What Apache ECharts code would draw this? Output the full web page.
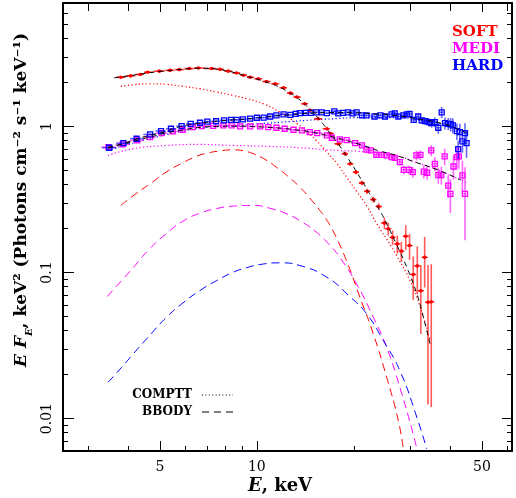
<!DOCTYPE html>
<html>
<head>
<meta charset="utf-8">
<script src="https://cdn.jsdelivr.net/npm/echarts@6/dist/echarts.min.js"></script>
<style>
html, body { margin: 0; padding: 0; background: #fff; }
#chart { width: 516px; height: 498px; }
</style>
</head>
<body>
<div id="chart"></div>
<script>
// ---- axis ticks ----
const xMajor = [5, 10, 50];
const xMinor = [3, 4, 6, 7, 8, 9, 20, 30, 40, 60];
const yMajor = [0.01, 0.1, 1];
const yMinor = [0.006, 0.007, 0.008, 0.009, 0.02, 0.03, 0.04, 0.05, 0.06, 0.07, 0.08, 0.09,
                0.2, 0.3, 0.4, 0.5, 0.6, 0.7, 0.8, 0.9, 2, 3, 4, 5, 6, 7];

// ---- SOFT state spectrum (E keV, E*F_E, error) ----
const softE = [3.78, 4.05, 4.34, 4.58, 4.98, 5.37, 5.74, 6.17, 6.58, 7.24, 7.68, 8.15, 8.65, 9.1, 9.53,
  10.1, 10.7, 11.4, 12.1, 12.7, 13.3, 14.1, 14.6, 15.5, 16.5, 16.9, 17.9, 18.8, 19.5, 20.3, 21.2, 22.0,
  23.0, 23.9, 24.9, 25.6, 26.4, 27.3, 28.1, 29.0, 29.8, 30.6, 31.5, 32.3, 33.2, 34.0, 34.8];
const softV = [2.17, 2.22, 2.27, 2.35, 2.39, 2.42, 2.45, 2.49, 2.51, 2.49, 2.46, 2.39, 2.32, 2.24, 2.17,
  2.12, 2.03, 1.96, 1.84, 1.69, 1.59, 1.43, 1.29, 1.13, 0.964, 0.895, 0.761, 0.650, 0.555, 0.486, 0.41, 0.36,
  0.316, 0.283, 0.218, 0.199, 0.174, 0.157, 0.140, 0.177, 0.153, 0.097, 0.111, 0.075, 0.127, 0.0625, 0.063];
const softErr = [0.03, 0.03, 0.03, 0.03, 0.03, 0.03, 0.03, 0.03, 0.03, 0.03, 0.03, 0.03, 0.03, 0.03, 0.03,
  0.03, 0.03, 0.03, 0.03, 0.03, 0.03, 0.03, 0.03, 0.02, 0.02, 0.02, 0.02, 0.02, 0.015, 0.015, 0.015, 0.015,
  0.015, 0.015, 0.02, 0.02, 0.02, 0.022, 0.022, 0.034, 0.031, 0.032, 0.04, 0.037, 0.048, 0.05, 0.051];

// ---- MEDI state spectrum ----
const mediE = [3.46, 3.83, 4.25, 4.66, 5.06, 5.48, 5.88, 6.32, 6.75, 7.32, 7.87, 8.35, 8.87, 9.53, 10.24,
  10.85, 11.5, 12.2, 13.0, 13.8, 14.6, 15.4, 16.5, 17.1, 18.1, 19.0, 20.2, 21.2, 21.9, 22.6, 23.5, 24.4,
  25.3, 26.2, 26.8, 27.8, 28.6, 29.7, 30.5, 31.3, 32.2, 33.0, 33.8, 34.8, 35.7, 36.6, 37.4, 38.3, 39.3,
  39.9, 40.8, 41.8, 42.4, 43.5, 44.3];
const mediV = [0.721, 0.753, 0.802, 0.845, 0.90, 0.924, 0.949, 0.99, 1.005, 1.01, 1.016, 1.016, 1.0, 1.0, 1.0,
  0.989, 0.98, 0.964, 0.949, 0.939, 0.914, 0.90, 0.868, 0.837, 0.815, 0.805, 0.769, 0.741, 0.693, 0.685, 0.64, 0.638,
  0.633, 0.616, 0.61, 0.57, 0.505, 0.505, 0.486, 0.633, 0.638, 0.49, 0.482, 0.685, 0.555, 0.465, 0.465, 0.623, 0.394,
  0.346, 0.532, 0.616, 0.623, 0.462, 0.346];
const mediErr = [0.012, 0.012, 0.012, 0.012, 0.012, 0.012, 0.012, 0.012, 0.012, 0.012, 0.012, 0.012, 0.012, 0.012, 0.012,
  0.012, 0.012, 0.012, 0.013, 0.013, 0.013, 0.014, 0.015, 0.015, 0.016, 0.016, 0.017, 0.018, 0.02, 0.02, 0.02, 0.022,
  0.022, 0.024, 0.025, 0.03, 0.035, 0.035, 0.04, 0.05, 0.05, 0.05, 0.05, 0.06, 0.06, 0.06, 0.065, 0.08, 0.07,
  0.09, 0.1, 0.11, 0.11, 0.12, 0.18];

// ---- HARD state spectrum ----
const hardE = [3.48, 3.85, 4.23, 4.66, 5.04, 5.41, 5.84, 6.23, 6.66, 7.02, 7.47, 7.91, 8.31, 8.65, 9.05, 9.53,
  10.0, 10.5, 11.0, 11.5, 12.1, 12.7, 13.2, 13.6, 14.2, 14.7, 15.3, 15.9, 16.5, 17.4, 17.9, 18.5, 19.2, 19.8,
  20.4, 21.2, 21.9, 23.2, 24.2, 25.0, 26.2, 26.8, 27.5, 28.5, 29.2, 29.8, 30.7, 31.7, 32.5, 33.3, 34.2, 34.9,
  35.7, 36.6, 37.5, 38.4, 39.3, 40.0, 40.6, 41.8, 42.2, 42.7, 43.5, 44.3, 44.8];
const hardV = [0.715, 0.768, 0.824, 0.882, 0.929, 0.964, 1.005, 1.043, 1.06, 1.08, 1.085, 1.10, 1.11, 1.11, 1.117, 1.13,
  1.147, 1.15, 1.17, 1.19, 1.21, 1.20, 1.22, 1.233, 1.237, 1.24, 1.25, 1.247, 1.233, 1.27, 1.23, 1.237, 1.25, 1.23,
  1.247, 1.19, 1.19, 1.17, 1.19, 1.17, 1.21, 1.23, 1.17, 1.19, 1.21, 1.22, 1.11, 1.17, 1.10, 1.087, 1.07, 1.053,
  1.07, 0.98, 1.25, 1.053, 1.043, 1.032, 1.016, 0.929, 0.70, 0.914, 0.79, 0.90, 0.77];
const hardErr = [0.012, 0.012, 0.012, 0.012, 0.012, 0.012, 0.012, 0.012, 0.012, 0.012, 0.012, 0.012, 0.012, 0.012, 0.012, 0.012,
  0.012, 0.012, 0.012, 0.012, 0.012, 0.013, 0.013, 0.013, 0.013, 0.014, 0.014, 0.014, 0.015, 0.015, 0.015, 0.016, 0.016, 0.017,
  0.018, 0.02, 0.02, 0.02, 0.022, 0.022, 0.025, 0.03, 0.03, 0.035, 0.04, 0.04, 0.05, 0.05, 0.06, 0.06, 0.07, 0.07,
  0.08, 0.09, 0.11, 0.1, 0.1, 0.11, 0.12, 0.12, 0.1, 0.13, 0.13, 0.15, 0.16];

// ---- total model curves ----
const softModelE = [3.6, 4.0, 4.5, 5.0, 5.5, 6.0, 6.5, 7.0, 7.5, 8.0, 8.5, 9.0, 9.5, 10.0, 10.5, 11.0, 11.5, 12.0,
  12.5, 13.0, 13.5, 14.0, 14.5, 15.0, 15.5, 16.0, 16.5, 17.0, 18.0, 19.0, 20.0, 21.0, 22.0, 23.0, 24.1, 25.5,
  27.1, 29.2, 31.4, 32.9, 34.5];
const softModelV = [2.15, 2.22, 2.31, 2.38, 2.43, 2.47, 2.50, 2.50, 2.47, 2.41, 2.34, 2.26, 2.18, 2.11, 2.04, 1.97, 1.90, 1.82,
  1.72, 1.64, 1.54, 1.44, 1.33, 1.24, 1.14, 1.05, 0.96, 0.88, 0.745, 0.625, 0.525, 0.44, 0.37, 0.315, 0.266, 0.208,
  0.157, 0.109, 0.0714, 0.0494, 0.0325];
const mediModelE = [3.45, 3.85, 4.3, 4.7, 5.2, 5.8, 6.5, 7.5, 8.5, 9.5, 10.5, 12, 13.6, 15, 17, 19, 21, 24, 27, 31, 36, 43];
const mediModelV = [0.72, 0.76, 0.81, 0.85, 0.9, 0.94, 0.98, 1.0, 1.005, 1.0, 0.99, 0.97, 0.94, 0.91, 0.855, 0.8, 0.75,
  0.68, 0.635, 0.57, 0.51, 0.43];
const hardModelE = [3.45, 3.85, 4.3, 4.7, 5.2, 5.8, 6.6, 7.5, 8.5, 9.5, 11, 13, 15, 17, 20, 23, 27, 32, 38, 43, 45];
const hardModelV = [0.71, 0.765, 0.83, 0.875, 0.925, 1.0, 1.05, 1.085, 1.11, 1.13, 1.17, 1.21, 1.235, 1.245, 1.24, 1.22,
  1.19, 1.12, 1.04, 0.94, 0.9];

// ---- COMPTT components ----
const softCompE = [3.78, 4.13, 4.66, 5.24, 5.9, 6.66, 7.5, 8.45, 9.29, 10.48, 11.8, 13.3, 14.3, 15.3, 16.5, 17.7, 19.0,
  20.4, 21.95, 23.6, 26.2, 27.1, 29.9, 32.1, 34.5];
const softCompV = [1.88, 1.93, 1.96, 1.94, 1.88, 1.81, 1.72, 1.63, 1.55, 1.43, 1.25, 1.05, 0.92, 0.80, 0.667, 0.56, 0.45,
  0.36, 0.285, 0.215, 0.15, 0.132, 0.088, 0.059, 0.034];
const mediCompE = [3.45, 4.13, 5.24, 6.66, 8.45, 10.9, 13.6, 16.5, 21.95, 27.8, 31, 36, 43, 45];
const mediCompV = [0.633, 0.704, 0.741, 0.753, 0.741, 0.73, 0.715, 0.692, 0.667, 0.62, 0.57, 0.51, 0.43, 0.41];
const hardCompE = [3.45, 4.13, 5.24, 6.66, 8.45, 10.0, 12.7, 15.0, 16.1, 21.9, 27, 32, 38, 43, 45];
const hardCompV = [0.69, 0.77, 0.88, 0.975, 1.01, 1.04, 1.08, 1.11, 1.12, 1.15, 1.15, 1.11, 1.035, 0.94, 0.9];

// ---- BBODY components ----
const softBbE = [3.78, 4.2, 4.66, 5.25, 5.9, 6.5, 6.99, 7.7, 8.45, 9.1, 9.76, 10.6, 11.5, 12.5, 13.6, 14.6, 15.7,
  16.5, 17.3, 19.0, 20.9, 23.0, 25.3, 27.5, 28.5];
const softBbV = [0.288, 0.345, 0.405, 0.49, 0.565, 0.625, 0.656, 0.68, 0.692, 0.68, 0.65, 0.595, 0.526, 0.455, 0.384,
  0.323, 0.266, 0.228, 0.19, 0.12, 0.0677, 0.038, 0.0192, 0.0097, 0.0062];
const mediBbE = [3.43, 3.8, 4.13, 4.6, 5.24, 5.9, 6.66, 7.5, 8.45, 9.76, 11.0, 12.4, 13.8, 15.3, 16.7, 18.1, 20.4,
  23.0, 25.3, 27.8, 30.2, 31.4];
const mediBbV = [0.0685, 0.088, 0.108, 0.142, 0.185, 0.225, 0.255, 0.274, 0.285, 0.288, 0.275, 0.252, 0.222, 0.189,
  0.157, 0.127, 0.0837, 0.0494, 0.0308, 0.0164, 0.0087, 0.0062];
const hardBbE = [3.45, 3.8, 4.13, 4.6, 5.24, 5.9, 6.66, 7.5, 8.45, 9.3, 10.24, 11.8, 13.6, 16.5, 19.5, 21.95, 24.7,
  27.8, 31.4, 33.7];
const hardBbV = [0.0177, 0.0224, 0.0277, 0.0362, 0.0494, 0.062, 0.0753, 0.088, 0.1005, 0.108, 0.1135, 0.1165, 0.1116,
  0.0928, 0.068, 0.0521, 0.0342, 0.0213, 0.0102, 0.0062];

const RED = '#ff0000', MAG = '#ff00ff', BLUE = '#0000ff';
const SERIF = '"DejaVu Serif", serif';

function zip(a, b) { return a.map((v, i) => [v, b[i]]); }

// Each spectral bin: centre, value, error range and bin edges (geometric midpoints to neighbours)
function bins(E, V, ERR) {
  return E.map((e, i) => {
    const prev = i > 0 ? E[i - 1] : e * e / E[i + 1];
    const next = i < E.length - 1 ? E[i + 1] : e * e / E[i - 1];
    return [e, V[i], V[i] - ERR[i], V[i] + ERR[i], Math.sqrt(prev * e), Math.sqrt(e * next)];
  });
}

function spectrum(name, E, V, ERR, color, barColor, hollow) {
  return {
    type: 'custom', name: name, xAxisIndex: 0, yAxisIndex: 0, z: 4,
    data: bins(E, V, ERR),
    encode: { x: [0, 4, 5], y: [1, 2, 3] },
    renderItem: function (params, api) {
      const c = api.coord([api.value(0), api.value(1)]);
      const lo = api.coord([api.value(0), api.value(2)]);
      const hi = api.coord([api.value(0), api.value(3)]);
      const l = api.coord([api.value(4), api.value(1)]);
      const r = api.coord([api.value(5), api.value(1)]);
      const kids = [
        { type: 'line', shape: { x1: lo[0], y1: lo[1], x2: hi[0], y2: hi[1] },
          style: { stroke: barColor, lineWidth: 1.6 } },
        { type: 'line', shape: { x1: l[0], y1: l[1], x2: r[0], y2: r[1] },
          style: { stroke: barColor, lineWidth: 1.6 } }
      ];
      if (hollow) {
        kids.push({ type: 'rect', shape: { x: c[0] - 2.5, y: c[1] - 2.5, width: 5, height: 5 },
          style: { fill: 'none', stroke: color, lineWidth: 1.3 } });
      } else {
        kids.push({ type: 'circle', shape: { cx: c[0], cy: c[1], r: 1.8 }, style: { fill: color } });
        kids.push({ type: 'line', shape: { x1: c[0] - 3, y1: c[1], x2: c[0] + 3, y2: c[1] },
          style: { stroke: color, lineWidth: 1.3 } });
      }
      return { type: 'group', children: kids };
    }
  };
}

function curve(name, E, V, color, dash, width, z) {
  return {
    type: 'line', name: name, xAxisIndex: 0, yAxisIndex: 0, z: z,
    data: zip(E, V), showSymbol: false, smooth: 0.5, silent: true,
    lineStyle: { color: color, width: width, type: dash }
  };
}

function xAx(pos, ticks, len, line, labels) {
  return {
    type: 'log', position: pos, min: 2.5, max: 62, logBase: 10,
    axisLine: { show: line, onZero: false, lineStyle: { color: '#000', width: 2 } },
    axisTick: { show: true, inside: true, length: len, customValues: ticks, lineStyle: { color: '#000', width: 1 } },
    axisLabel: labels ? { show: true, customValues: ticks, margin: 9, color: '#000',
      fontFamily: SERIF, fontSize: 14 } : { show: false },
    splitLine: { show: false }, minorTick: { show: false }
  };
}
function yAx(pos, ticks, len, line, labels) {
  return {
    type: 'log', position: pos, min: 0.006, max: 7, logBase: 10,
    axisLine: { show: line, onZero: false, lineStyle: { color: '#000', width: 2 } },
    axisTick: { show: true, inside: true, length: len, customValues: ticks, lineStyle: { color: '#000', width: 1 } },
    axisLabel: labels ? { show: true, customValues: ticks, rotate: 90, margin: 9, color: '#000',
      fontFamily: SERIF, fontSize: 14 } : { show: false },
    splitLine: { show: false }, minorTick: { show: false }
  };
}

const chart = echarts.init(document.getElementById('chart'), null, { renderer: 'canvas' });
chart.setOption({
  animation: false,
  backgroundColor: '#fff',
  grid: { left: 63, right: 4, top: 3, bottom: 47, containLabel: false },
  xAxis: [
    xAx('bottom', xMajor, 10, true, true),
    xAx('bottom', xMinor, 5, false, false),
    xAx('top', xMajor, 9, true, false),
    xAx('top', xMinor, 8, false, false)
  ],
  yAxis: [
    yAx('left', yMajor, 11, true, true),
    yAx('left', yMinor, 5, false, false),
    yAx('right', yMajor, 10, true, false),
    yAx('right', yMinor, 5, false, false)
  ],
  graphic: [
    { type: 'text', x: 22, y: 200, rotation: Math.PI / 2,
      style: {
        text: '{i|E F}{s|E}{n|, keV² (Photons cm⁻² s⁻¹ keV⁻¹)}',
        align: 'center', verticalAlign: 'middle', fill: '#000',
        rich: {
          i: { fontFamily: SERIF, fontSize: 17, fontWeight: 'bold', fontStyle: 'italic', lineHeight: 24, verticalAlign: 'middle' },
          s: { fontFamily: SERIF, fontSize: 10, fontWeight: 'bold', fontStyle: 'italic', lineHeight: 11, verticalAlign: 'bottom' },
          n: { fontFamily: SERIF, fontSize: 17, fontWeight: 'bold', lineHeight: 24, verticalAlign: 'middle' }
        }
      } },
    { type: 'text', x: 280, y: 486,
      style: {
        text: '{i|E}{n|, keV}', align: 'center', verticalAlign: 'middle', fill: '#000',
        rich: {
          i: { fontFamily: SERIF, fontSize: 18, fontWeight: 'bold', fontStyle: 'italic' },
          n: { fontFamily: SERIF, fontSize: 18, fontWeight: 'bold' }
        }
      } },
    { type: 'text', x: 452, y: 32, style: { text: 'SOFT', fill: RED, font: 'bold 15px ' + SERIF, verticalAlign: 'middle' } },
    { type: 'text', x: 452, y: 49, style: { text: 'MEDI', fill: MAG, font: 'bold 15px ' + SERIF, verticalAlign: 'middle' } },
    { type: 'text', x: 452, y: 66, style: { text: 'HARD', fill: BLUE, font: 'bold 15px ' + SERIF, verticalAlign: 'middle' } },
    { type: 'text', x: 192, y: 395, style: { text: 'COMPTT', fill: '#000', font: 'bold 12px ' + SERIF, align: 'right', verticalAlign: 'middle' } },
    { type: 'text', x: 192, y: 412, style: { text: 'BBODY', fill: '#000', font: 'bold 12px ' + SERIF, align: 'right', verticalAlign: 'middle' } },
    { type: 'line', shape: { x1: 202, y1: 395, x2: 233, y2: 395 }, style: { stroke: '#000', lineWidth: 1, lineDash: [1, 2.4] } },
    { type: 'line', shape: { x1: 202, y1: 412, x2: 233, y2: 412 }, style: { stroke: '#000', lineWidth: 1, lineDash: [7, 5] } }
  ],
  series: [
    curve('SOFT bbody', softBbE, softBbV, RED, [8, 5], 1, 1),
    curve('MEDI bbody', mediBbE, mediBbV, MAG, [8, 5], 1, 1),
    curve('HARD bbody', hardBbE, hardBbV, BLUE, [8, 5], 1, 1),
    curve('SOFT comptt', softCompE, softCompV, RED, [1.2, 2.4], 1.2, 1),
    curve('MEDI comptt', mediCompE, mediCompV, MAG, [1.2, 2.4], 1.2, 1),
    curve('HARD comptt', hardCompE, hardCompV, BLUE, [1.2, 2.4], 1.2, 1),
    spectrum('SOFT', softE, softV, softErr, RED, 'rgba(255,0,0,0.65)', false),
    spectrum('MEDI', mediE, mediV, mediErr, MAG, 'rgba(255,0,255,0.6)', true),
    spectrum('HARD', hardE, hardV, hardErr, BLUE, 'rgba(0,0,255,0.6)', true),
    curve('SOFT model', softModelE, softModelV, '#000', [5, 4], 1, 6),
    curve('MEDI model', mediModelE, mediModelV, '#000', [5, 4], 1, 6),
    curve('HARD model', hardModelE, hardModelV, '#000', [5, 4], 1, 6)
  ]
});
</script>
</body>
</html>
